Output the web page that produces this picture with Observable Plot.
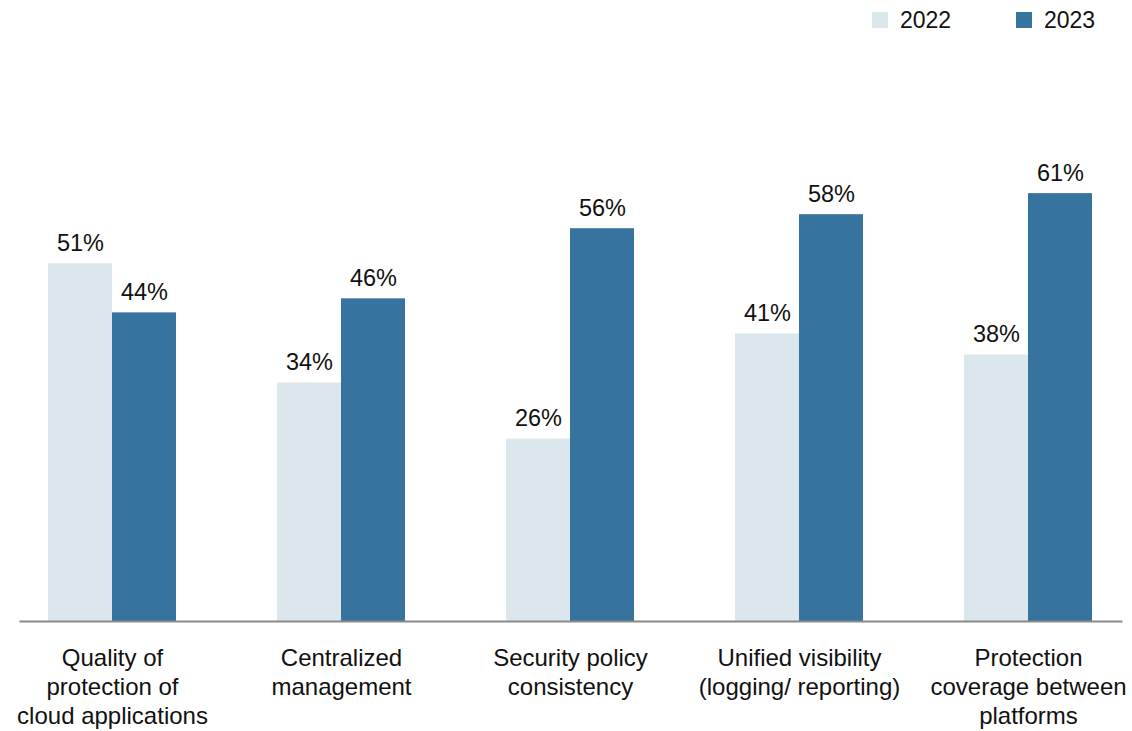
<!DOCTYPE html>
<html>
<head>
<meta charset="utf-8">
<script src="https://cdn.jsdelivr.net/npm/d3@7"></script>
<script src="https://cdn.jsdelivr.net/npm/@observablehq/plot@0.6"></script>
<style>
  html, body { margin: 0; padding: 0; background: #fff; }
  body { font-family: "Liberation Sans", Arial, Helvetica, sans-serif; width: 1132px; }
  #legend { position: relative; height: 40px; }
  .item { position: absolute; top: 0; height: 40px; display: flex; align-items: center; font-size: 23px; color: #111; }
  .sw { width: 16px; height: 16px; margin-right: 12px; margin-top: -1px; }
  #chart svg { display: block; }
</style>
</head>
<body>
<div id="legend"></div>
<div id="chart"></div>
<script>
const categories = [
  "Quality of protection of cloud applications",
  "Centralized management",
  "Security policy consistency",
  "Unified visibility (logging/ reporting)",
  "Protection coverage between platforms"
];
const categoryLabels = [
  "Quality of\nprotection of\ncloud applications",
  "Centralized\nmanagement",
  "Security policy\nconsistency",
  "Unified visibility\n(logging/ reporting)",
  "Protection\ncoverage between\nplatforms"
];
const years = ["2022", "2023"];
const values2022 = [51, 34, 26, 41, 38];
const values2023 = [44, 46, 56, 58, 61];
const colors = ["#dce6ed", "#36739e"];

const data = [];
categories.forEach((c, i) => {
  data.push({category: c, year: years[0], value: values2022[i]});
  data.push({category: c, year: years[1], value: values2023[i]});
});

// legend
const legend = document.getElementById("legend");
const legendLeft = [872, 1016];
years.forEach((y, i) => {
  const it = document.createElement("div");
  it.className = "item";
  it.style.left = legendLeft[i] + "px";
  const sw = document.createElement("div");
  sw.className = "sw";
  sw.style.background = colors[i];
  it.appendChild(sw);
  it.appendChild(document.createTextNode(y));
  legend.appendChild(it);
});

const chart = Plot.plot({
  width: 1132,
  height: 691,
  marginLeft: 24,
  marginRight: 17,
  marginTop: 90,
  marginBottom: 110,
  style: {fontFamily: "'Liberation Sans', Arial, Helvetica, sans-serif", background: "#fff"},
  fx: {domain: categories, paddingInner: 0.4417, paddingOuter: 0.1, label: null},
  x: {domain: years, padding: 0, axis: null},
  y: {domain: [0, 70], axis: null},
  color: {domain: years, range: colors},
  marks: [
    Plot.barY(data, {fx: "category", x: "year", y: "value", fill: "year"}),
    Plot.text(data, {
      fx: "category", x: "year", y: "value",
      text: d => d.value + "%",
      lineAnchor: "bottom", dy: -13, fontSize: 23.5, fill: "#111"
    }),
    Plot.frame({anchor: "bottom", facet: "super", stroke: "#8a8a8a", strokeWidth: 2, insetLeft: -28, insetRight: -29}),
    Plot.axisFx({
      anchor: "bottom", tickSize: 0, tickPadding: 24, fontSize: 24, lineHeight: 1.2,
      label: null, fill: "#111",
      tickFormat: d => categoryLabels[categories.indexOf(d)]
    })
  ]
});
document.getElementById("chart").appendChild(chart);
</script>
</body>
</html>
